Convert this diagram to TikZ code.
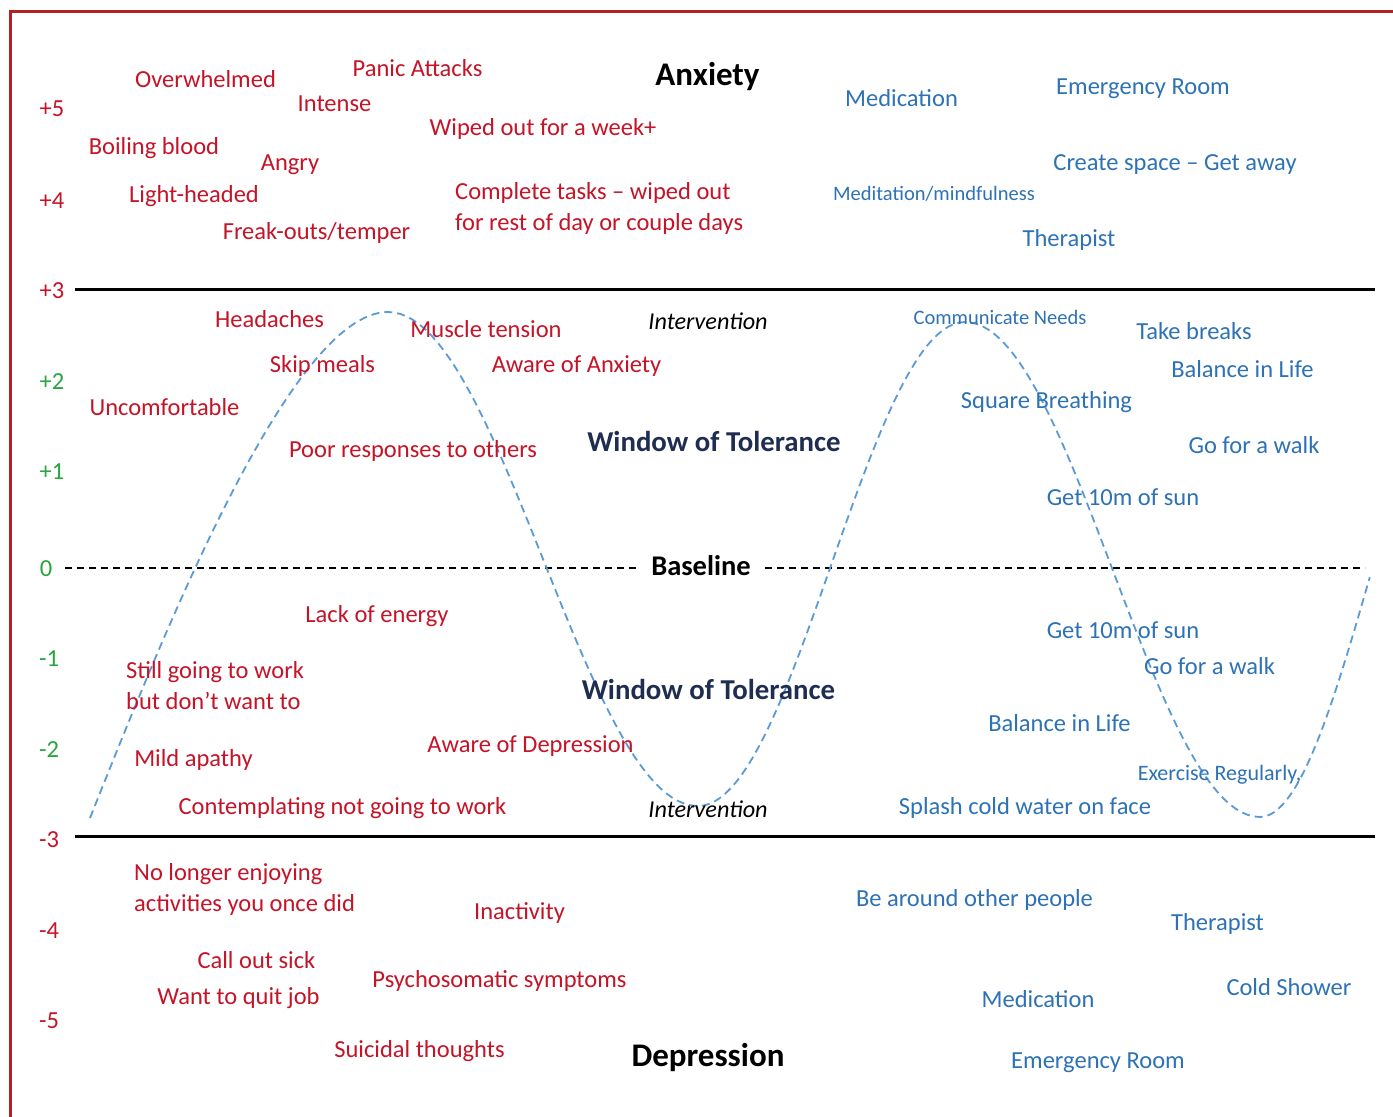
\documentclass[tikz,border=0pt]{standalone}
\usepackage{fontspec}
\setmainfont{Carlito}
\definecolor{tred}{RGB}{197,20,40}
\definecolor{tblue}{RGB}{46,114,182}
\definecolor{tgreen}{RGB}{40,165,64}
\definecolor{tnavy}{RGB}{31,45,80}
\definecolor{cblue}{RGB}{91,155,213}
\definecolor{frame}{RGB}{178,34,34}
\begin{document}
\begin{tikzpicture}[x=1pt,y=-1pt,
  lbl/.style={inner sep=0pt, text height=0.62em, text depth=0pt, yshift=-5.5pt, font=\fontsize{24.5}{29}\selectfont},
  redl/.style={lbl, text=tred},
  bluel/.style={lbl, text=tblue},
  smallblue/.style={lbl, text=tblue, yshift=1pt, font=\fontsize{20.5}{24}\selectfont},
  midblue/.style={lbl, text=tblue, font=\fontsize{22}{26}\selectfont},
  greenl/.style={lbl, text=tgreen},
  title/.style={lbl, text=black, yshift=-2pt, font=\fontsize{33}{38}\selectfont\bfseries},
  wot/.style={lbl, text=tnavy, yshift=-1pt, font=\fontsize{28.8}{34}\selectfont\bfseries},
  basel/.style={lbl, text=black, yshift=-1pt, font=\fontsize{28.5}{34}\selectfont\bfseries},
  interv/.style={lbl, text=black, font=\fontsize{24.2}{29}\selectfont\itshape},
  axisline/.style={line width=3pt, black},
  baseline/.style={line width=2pt, black, dash pattern=on 7pt off 5pt},
  wave/.style={line width=1.8pt, cblue, dash pattern=on 8pt off 5pt},
  border/.style={line width=3pt, frame}
]
\useasboundingbox (0,0) rectangle (1393,1117);
\fill[white] (0,0) rectangle (1393,1117);
% frame
\coordinate (fb) at (10,1117);
\coordinate (fc) at (10,11);
\coordinate (fr) at (1393,11);
\draw[border] (fb) -- (fc) -- (fr);

% axis numbers
\node[redl] (a5) at (52,108) {+5};
\node[redl] (a4) at (52,200) {+4};
\node[redl] (a3) at (52,290) {+3};
\node[greenl] (a2) at (52,381) {+2};
\node[greenl] (a1) at (52,471) {+1};
\node[greenl] (a0) at (46,568) {0};
\node[greenl] (am1) at (49,658) {-1};
\node[greenl] (am2) at (49,749) {-2};
\node[redl] (am3) at (49,839) {-3};
\node[redl] (am4) at (49,930) {-4};
\node[redl] (am5) at (49,1020) {-5};

% horizontal lines
\coordinate (tl) at (75,289);
\coordinate (tr) at (1375,289);
\coordinate (bl) at (75,836);
\coordinate (br) at (1375,836);
\draw[axisline] (tl) -- (tr);
\draw[axisline] (bl) -- (br);
\node[basel] (base) at (701,566) {Baseline};
\coordinate (basel0) at (65,568);
\coordinate (basel1) at (638,568);
\coordinate (baser1) at (765,568);
\coordinate (baser0) at (1365,568);
\draw[baseline] (basel0) -- (basel1);
\draw[baseline] (baser1) -- (baser0);

% wave
\coordinate (w0) at (90,818);
\coordinate (w1) at (388,312);
\draw[wave] (w0) .. controls (160,643) and (290,312) .. (w1)
  -- plot[domain=0:1, samples=50, variable=\t] ({388+310*\t},{559-247*cos(180*\t)})
  -- plot[domain=0:1, samples=50, variable=\t] ({698+267*\t},{564+242*cos(180*\t)})
  -- plot[domain=0:1, samples=50, variable=\t] ({965+295*\t},{569.5-247.5*cos(180*\t)})
  -- plot[domain=0:0.49, samples=25, variable=\t] ({1260+224*\t},{569.5+247.5*cos(180*\t)});

% titles
\node[title] (anx) at (707.5,75) {Anxiety};
\node[title] (dep) at (708,1056) {Depression};
\node[wot] (wot1) at (714,442) {Window of Tolerance};
\node[wot] (wot2) at (708.5,690) {Window of Tolerance};
\node[interv] (int1) at (708,321) {Intervention};
\node[interv] (int2) at (708,809) {Intervention};

% red upper
\node[redl] (r1) at (205.5,79) {Overwhelmed};
\node[redl] (r2) at (417.5,68) {Panic Attacks};
\node[redl] (r3) at (334.5,103) {Intense};
\node[redl] (r4) at (543,127) {Wiped out for a week+};
\node[redl] (r5) at (154,146) {Boiling blood};
\node[redl] (r6) at (290,162) {Angry};
\node[redl] (r7) at (194,194) {Light-headed};
\node[redl, anchor=west] (r8) at (455,191) {Complete tasks – wiped out};
\node[redl, anchor=west] (r9) at (455,222) {for rest of day or couple days};
\node[redl] (r10) at (316.5,231) {Freak-outs/temper};
% red middle
\node[redl] (r11) at (269.5,319) {Headaches};
\node[redl] (r12) at (486,329) {Muscle tension};
\node[redl] (r13) at (322.5,364) {Skip meals};
\node[redl] (r14) at (576.5,364) {Aware of Anxiety};
\node[redl] (r15) at (164.5,407) {Uncomfortable};
\node[redl] (r16) at (413,449) {Poor responses to others};
\node[redl] (r17) at (377,614) {Lack of energy};
\node[redl, anchor=west] (r18) at (126,670) {Still going to work};
\node[redl, anchor=west] (r19) at (126,701) {but don’t want to};
\node[redl] (r20) at (530.5,744) {Aware of Depression};
\node[redl] (r21) at (193.5,758) {Mild apathy};
\node[redl] (r22) at (342.5,806) {Contemplating not going to work};
% red lower
\node[redl, anchor=west] (r23) at (134,872) {No longer enjoying};
\node[redl, anchor=west] (r24) at (134,903) {activities you once did};
\node[redl] (r25) at (519.5,911) {Inactivity};
\node[redl] (r26) at (256.5,960) {Call out sick};
\node[redl] (r27) at (499.5,979) {Psychosomatic symptoms};
\node[redl] (r28) at (238.5,996) {Want to quit job};
\node[redl] (r29) at (419.5,1049) {Suicidal thoughts};

% blue
\node[bluel] (b1) at (901.5,98) {Medication};
\node[bluel] (b2) at (1143,86) {Emergency Room};
\node[bluel] (b3) at (1175,162) {Create space – Get away};
\node[smallblue] (b4) at (934,193) {Meditation/mindfulness};
\node[bluel] (b5) at (1069,238) {Therapist};
\node[smallblue] (b6) at (1000,317) {Communicate Needs};
\node[bluel] (b7) at (1194,331) {Take breaks};
\node[bluel] (b8) at (1242.5,369) {Balance in Life};
\node[bluel] (b9) at (1046.5,400) {Square Breathing};
\node[bluel] (b10) at (1254,445) {Go for a walk};
\node[bluel] (b11) at (1123,497) {Get 10m of sun};
\node[bluel] (b12) at (1123,630) {Get 10m of sun};
\node[bluel] (b13) at (1209.5,666) {Go for a walk};
\node[bluel] (b14) at (1059.5,723) {Balance in Life};
\node[midblue] (b15) at (1219.5,772) {Exercise Regularly,};
\node[bluel] (b16) at (1025,806) {Splash cold water on face};
\node[bluel] (b17) at (974.5,898) {Be around other people};
\node[bluel] (b18) at (1217.5,922) {Therapist};
\node[bluel] (b19) at (1289,987) {Cold Shower};
\node[bluel] (b20) at (1038,999) {Medication};
\node[bluel] (b21) at (1098,1060) {Emergency Room};
\end{tikzpicture}
\end{document}
